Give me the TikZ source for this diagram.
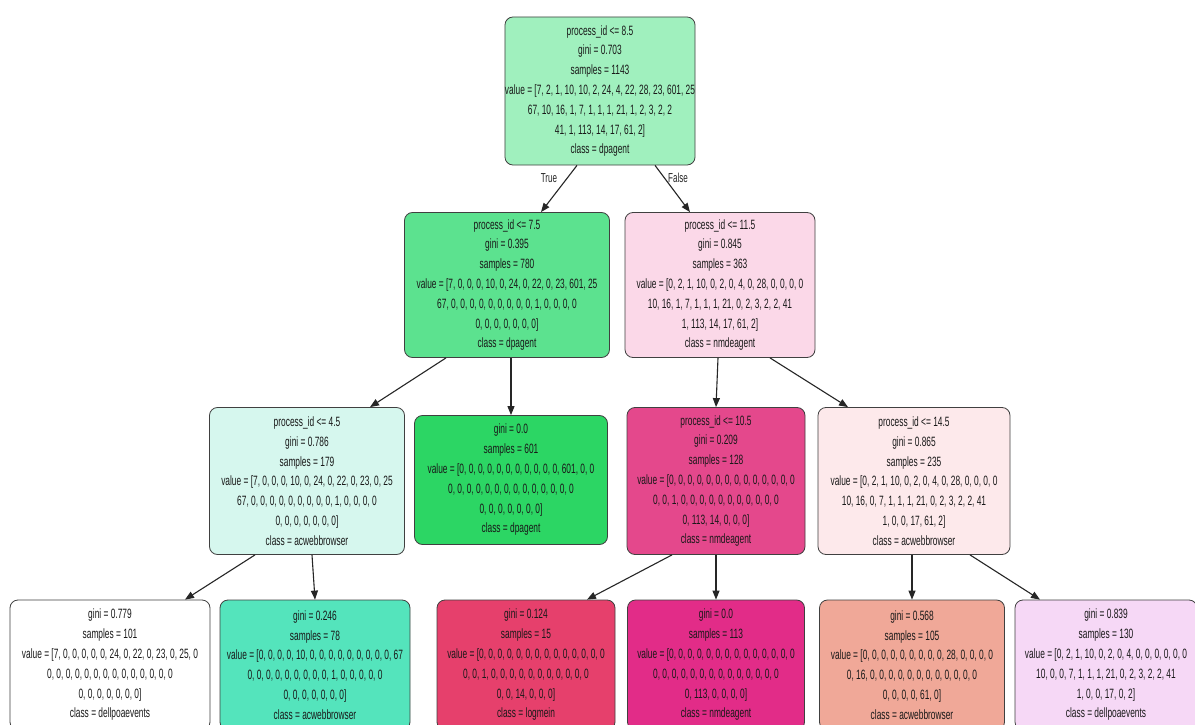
\documentclass[tikz,border=0pt]{standalone}
\usepackage{fontspec}
\setmainfont{Liberation Sans}[FakeStretch=0.62]
\usetikzlibrary{arrows.meta}
\definecolor{cRoot}{RGB}{160,240,190}
\definecolor{cLa}{RGB}{92,226,143}
\definecolor{cLb}{RGB}{251,216,232}
\definecolor{cMa}{RGB}{214,247,238}
\definecolor{cMb}{RGB}{44,214,100}
\definecolor{cMc}{RGB}{228,72,140}
\definecolor{cMd}{RGB}{253,233,235}
\definecolor{cNa}{RGB}{255,255,255}
\definecolor{cNb}{RGB}{84,228,188}
\definecolor{cNc}{RGB}{230,64,108}
\definecolor{cNd}{RGB}{226,44,136}
\definecolor{cNe}{RGB}{240,168,152}
\definecolor{cNf}{RGB}{246,216,246}
\tikzset{
  treenode/.style={draw=black!75, line width=0.8pt, rounded corners=8pt,
    align=center, inner sep=0pt, text=black!90,
    font=\fontsize{13.5}{19.8}\selectfont},
  edge/.style={draw=black!85, line width=1.1pt, -{Triangle[length=9pt,width=7pt]}},
  edgelabel/.style={font=\fontsize{13}{14}\selectfont, text=black!85}
}
\begin{document}
\begin{tikzpicture}[x=1pt,y=-1pt]
\useasboundingbox (0,0) rectangle (1195,725);
\clip (0,0) rectangle (1195,725);
\fill[white] (0,0) rectangle (1195,725);

% level 0
\node[treenode, fill=cRoot, minimum width=190pt, minimum height=148pt] (root) at (600,91)
 {process\_id <= 8.5\\gini = 0.703\\samples = 1143\\value = [7, 2, 1, 10, 10, 2, 24, 4, 22, 28, 23, 601, 25\\67, 10, 16, 1, 7, 1, 1, 1, 21, 1, 2, 3, 2, 2\\41, 1, 113, 14, 17, 61, 2]\\class = dpagent};

% level 1
\node[treenode, fill=cLa, minimum width=205pt, minimum height=145pt] (la) at (507,285)
 {process\_id <= 7.5\\gini = 0.395\\samples = 780\\value = [7, 0, 0, 0, 10, 0, 24, 0, 22, 0, 23, 601, 25\\67, 0, 0, 0, 0, 0, 0, 0, 0, 0, 1, 0, 0, 0, 0\\0, 0, 0, 0, 0, 0, 0]\\class = dpagent};
\node[treenode, fill=cLb, minimum width=190pt, minimum height=145pt] (lb) at (720,285)
 {process\_id <= 11.5\\gini = 0.845\\samples = 363\\value = [0, 2, 1, 10, 0, 2, 0, 4, 0, 28, 0, 0, 0, 0\\10, 16, 1, 7, 1, 1, 1, 21, 0, 2, 3, 2, 2, 41\\1, 113, 14, 17, 61, 2]\\class = nmdeagent};

% level 2
\node[treenode, fill=cMa, minimum width=195pt, minimum height=147pt] (ma) at (307,481)
 {process\_id <= 4.5\\gini = 0.786\\samples = 179\\value = [7, 0, 0, 0, 10, 0, 24, 0, 22, 0, 23, 0, 25\\67, 0, 0, 0, 0, 0, 0, 0, 0, 0, 1, 0, 0, 0, 0\\0, 0, 0, 0, 0, 0, 0]\\class = acwebbrowser};
\node[treenode, fill=cMb, minimum width=193pt, minimum height=129pt] (mb) at (511,480)
 {gini = 0.0\\samples = 601\\value = [0, 0, 0, 0, 0, 0, 0, 0, 0, 0, 0, 601, 0, 0\\0, 0, 0, 0, 0, 0, 0, 0, 0, 0, 0, 0, 0, 0\\0, 0, 0, 0, 0, 0, 0]\\class = dpagent};
\node[treenode, fill=cMc, minimum width=178pt, minimum height=147pt] (mc) at (716,481)
 {process\_id <= 10.5\\gini = 0.209\\samples = 128\\value = [0, 0, 0, 0, 0, 0, 0, 0, 0, 0, 0, 0, 0, 0\\0, 0, 1, 0, 0, 0, 0, 0, 0, 0, 0, 0, 0, 0\\0, 113, 14, 0, 0, 0]\\class = nmdeagent};
\node[treenode, fill=cMd, minimum width=192pt, minimum height=147pt] (md) at (914,481)
 {process\_id <= 14.5\\gini = 0.865\\samples = 235\\value = [0, 2, 1, 10, 0, 2, 0, 4, 0, 28, 0, 0, 0, 0\\10, 16, 0, 7, 1, 1, 1, 21, 0, 2, 3, 2, 2, 41\\1, 0, 0, 17, 61, 2]\\class = acwebbrowser};

% level 3 (leaves)
\node[treenode, fill=cNa, minimum width=200pt, minimum height=130pt] (na) at (110,665)
 {gini = 0.779\\samples = 101\\value = [7, 0, 0, 0, 0, 0, 24, 0, 22, 0, 23, 0, 25, 0\\0, 0, 0, 0, 0, 0, 0, 0, 0, 0, 0, 0, 0, 0\\0, 0, 0, 0, 0, 0, 0]\\class = dellpoaevents};
\node[treenode, fill=cNb, minimum width=190pt, minimum height=130pt] (nb) at (315,665)
 {gini = 0.246\\samples = 78\\value = [0, 0, 0, 0, 10, 0, 0, 0, 0, 0, 0, 0, 0, 0, 67\\0, 0, 0, 0, 0, 0, 0, 0, 0, 1, 0, 0, 0, 0, 0\\0, 0, 0, 0, 0, 0, 0]\\class = acwebbrowser};
\node[treenode, fill=cNc, minimum width=178pt, minimum height=130pt] (nc) at (526,665)
 {gini = 0.124\\samples = 15\\value = [0, 0, 0, 0, 0, 0, 0, 0, 0, 0, 0, 0, 0, 0\\0, 0, 1, 0, 0, 0, 0, 0, 0, 0, 0, 0, 0, 0\\0, 0, 14, 0, 0, 0]\\class = logmein};
\node[treenode, fill=cNd, minimum width=177pt, minimum height=130pt] (nd) at (716,665)
 {gini = 0.0\\samples = 113\\value = [0, 0, 0, 0, 0, 0, 0, 0, 0, 0, 0, 0, 0, 0\\0, 0, 0, 0, 0, 0, 0, 0, 0, 0, 0, 0, 0, 0\\0, 113, 0, 0, 0, 0]\\class = nmdeagent};
\node[treenode, fill=cNe, minimum width=185pt, minimum height=130pt] (ne) at (912,665)
 {gini = 0.568\\samples = 105\\value = [0, 0, 0, 0, 0, 0, 0, 0, 0, 28, 0, 0, 0, 0\\0, 16, 0, 0, 0, 0, 0, 0, 0, 0, 0, 0, 0, 0\\0, 0, 0, 0, 61, 0]\\class = acwebbrowser};
\node[treenode, fill=cNf, minimum width=182pt, minimum height=130pt] (nf) at (1106,665)
 {gini = 0.839\\samples = 130\\value = [0, 2, 1, 10, 0, 2, 0, 4, 0, 0, 0, 0, 0, 0\\10, 0, 0, 7, 1, 1, 1, 21, 0, 2, 3, 2, 2, 41\\1, 0, 0, 17, 0, 2]\\class = dellpoaevents};

% connectors
\draw[edge] ([xshift=-23pt]root.south) -- ([xshift=34pt]la.north);
\draw[edge] ([xshift=55pt]root.south) -- ([xshift=-30pt]lb.north);
\node[edgelabel] (tlabel) at (549,178) {True};
\node[edgelabel] (flabel) at (678,178) {False};

\draw[edge] ([xshift=-61pt]la.south) -- ([xshift=63pt]ma.north);
\draw[edge] ([xshift=4pt]la.south) -- (mb.north);
\draw[edge] ([xshift=-2pt]lb.south) -- (mc.north);
\draw[edge] ([xshift=50pt]lb.south) -- ([xshift=-66pt]md.north);

\draw[edge] ([xshift=-52pt]ma.south) -- ([xshift=75pt]na.north);
\draw[edge] ([xshift=5pt]ma.south) -- (nb.north);
\draw[edge] ([xshift=-44pt]mc.south) -- ([xshift=61pt]nc.north);
\draw[edge] (mc.south) -- (nd.north);
\draw[edge] ([xshift=-2pt]md.south) -- (ne.north);
\draw[edge] ([xshift=56pt]md.south) -- ([xshift=-66pt]nf.north);
\end{tikzpicture}
\end{document}
